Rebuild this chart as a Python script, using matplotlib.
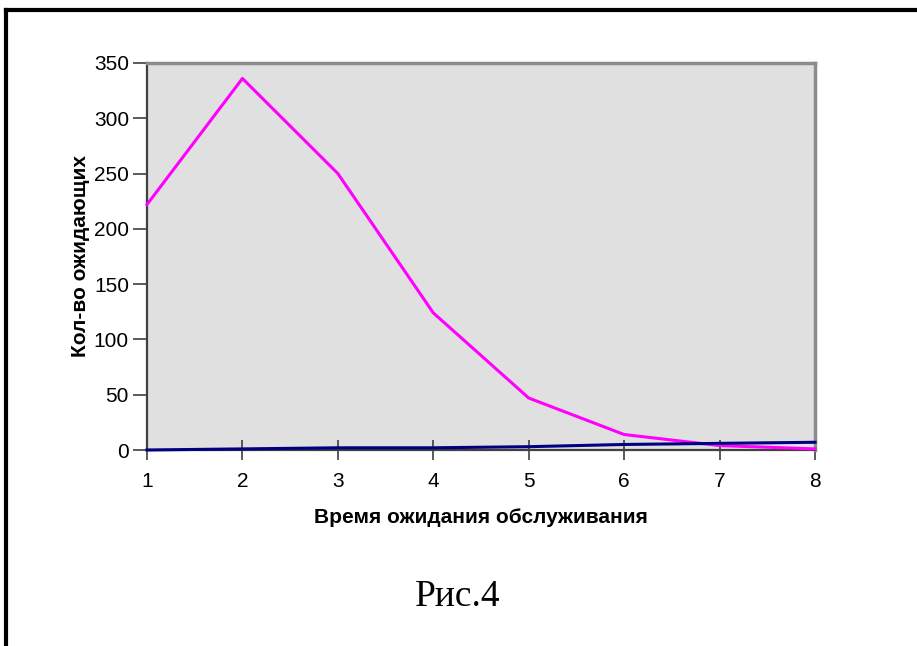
import matplotlib
matplotlib.use('Agg')
import matplotlib.pyplot as plt
from matplotlib.lines import Line2D

# data
wait_time = [1, 2, 3, 4, 5, 6, 7, 8]
waiting_a = [222, 336, 250, 124, 47, 14, 4, 1]
waiting_b = [0, 1, 2, 2, 3, 5, 6, 7]
y_ticks = [0, 50, 100, 150, 200, 250, 300, 350]

plt.rcParams['font.family'] = ['Liberation Sans', 'DejaVu Sans']

fig = plt.figure(figsize=(9.17, 6.46), dpi=100)
ax = fig.add_axes([0.1603, 0.3034, 0.7285, 0.5991])
ax.set_facecolor('#e0e0e0')

ax.plot(wait_time, waiting_a, color='#ff00ff', lw=2.2, clip_on=False, zorder=3)
ax.plot(wait_time, waiting_b, color='#000080', lw=2.2, clip_on=False, zorder=3)

ax.set_xlim(1, 8)
ax.set_ylim(0, 350)
ax.set_xticks(wait_time)
ax.set_yticks(y_ticks)
ax.tick_params(axis='y', direction='out', length=10, width=1.2, color='#404040', labelsize=15, pad=3)
ax.tick_params(axis='x', direction='inout', length=14, width=1.2, color='#404040', labelsize=15, pad=9)

for side in ('left', 'bottom'):
    ax.spines[side].set_color('#404040')
    ax.spines[side].set_linewidth(1.6)
for side in ('top', 'right'):
    ax.spines[side].set_color('#8c8c8c')
    ax.spines[side].set_linewidth(2.5)

ax.set_xlabel('Время ожидания обслуживания', fontsize=15, fontweight='bold', labelpad=12)
ax.set_ylabel('Кол-во ожидающих', fontsize=15, fontweight='bold', labelpad=3)

fig.text(0.4995, 0.076, 'Рис.4', family='Liberation Serif', fontsize=27, ha='center', va='center')

# outer frame (top and left edges)
fig.add_artist(Line2D([0.0065, 1.0], [0.9845, 0.9845], color='black', lw=3, transform=fig.transFigure))
fig.add_artist(Line2D([0.0065, 0.0065], [0.0, 0.9845], color='black', lw=3, transform=fig.transFigure))

fig.savefig('out.png', dpi=100)
